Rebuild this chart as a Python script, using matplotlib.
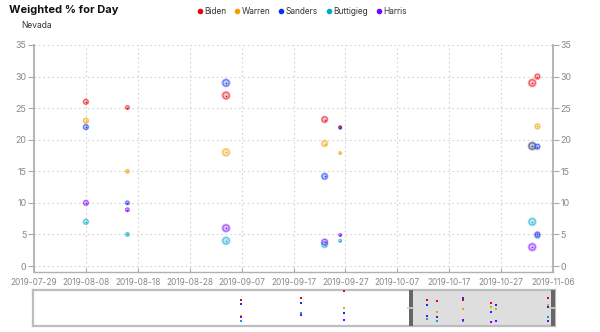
import matplotlib
matplotlib.use("Agg")
import matplotlib.pyplot as plt
import matplotlib.dates as mdates
from matplotlib.lines import Line2D
import numpy as np
import pandas as pd

plt.rcParams['font.family'] = ['Inter', 'DejaVu Sans']

# ---------------- data ----------------
candidates = ["Biden", "Warren", "Sanders", "Buttigieg", "Harris"]
cand_colors = ["#e8000b", "#f0a000", "#0a32f0", "#00a8c8", "#7a00ff"]

poll_dates = ["2019-08-08", "2019-08-16", "2019-09-04", "2019-09-23",
              "2019-09-26", "2019-11-02", "2019-11-03"]
biden = [26.0, 25.1, 27.0, 23.2, 22.0, 29.0, 30.0]
warren = [23.0, 15.0, 18.0, 19.4, 17.9, 19.0, 22.1]
sanders = [22.0, 10.0, 29.0, 14.2, 21.9, 19.0, 18.9]
buttigieg = [7.0, 5.0, 4.0, 3.4, 4.0, 7.0, 4.8]
harris = [10.0, 8.9, 6.0, 3.8, 4.9, 3.0, 5.0]
poll_weight = [3.4, 2.6, 4.6, 3.9, 2.0, 4.6, 3.4]

# scrollbar preview series
scroll_dates = ["2019-09-07", "2019-09-18 14:00", "2019-09-27", "2019-10-13",
                "2019-10-15", "2019-10-20", "2019-10-25 10:00",
                "2019-10-26 10:00", "2019-11-05 10:00"]
nan = np.nan
s_biden = [25.0, 27.5, 34.5, 25.0, 24.3, 24.8, 22.1, nan, 27.5]
s_warren = [10.2, nan, 17.8, nan, 13.9, 16.8, 18.5, 16.2, 20.4]
s_sanders = [21.4, 22.6, 12.2, 20.7, 8.7, 27.2, 13.3, 20.4, 18.5]
s_buttigieg = [4.9, 12.6, nan, 7.1, 4.9, 4.9, nan, nan, 8.7]
s_harris = [9.2, 10.7, 6.0, 9.7, nan, 6.1, 3.9, 4.9, 4.9]

x_start, x_end = "2019-07-29", "2019-11-06"
sel_start = "2019-10-09 12:00"
y_ticks = [0, 5, 10, 15, 20, 25, 30, 35]

# ---------------- figure ----------------
W, H = 600, 332
fig = plt.figure(figsize=(W / 100, H / 100), dpi=100)

def fx(px):
    return px / W

def fy(py):
    return 1 - py / H

ax = fig.add_axes([fx(34), fy(272), fx(553) - fx(34), fy(45) - fy(272)])
d0 = mdates.datestr2num(x_start)
d1 = mdates.datestr2num(x_end)
ax.set_xlim(d0, d1)
ax.set_ylim(-0.95, 35)

grid_kw = dict(color="#d4d4d4", lw=0.8, ls=(0, (1.5, 2.5)), zorder=0)
for t in y_ticks:
    ax.axhline(t, **grid_kw)
xt = [d0 + 10 * i for i in range(11)]
for t in xt:
    ax.axvline(t, **grid_kw)

series = [biden, warren, sanders, buttigieg, harris]
xd = mdates.datestr2num(poll_dates)
px2pt = 72 / 100
for vals, col in zip(series, cand_colors):
    r = np.array(poll_weight)
    s_out = (2 * r * px2pt) ** 2
    s_mid = (2 * r * 0.68 * px2pt) ** 2
    ax.scatter(xd, vals, s=s_out, color=col, alpha=0.28, lw=0, zorder=3)
    ax.scatter(xd, vals, s=s_mid, facecolor=(1, 1, 1, 0.15),
               edgecolor=matplotlib.colors.to_rgba(col, 0.55), lw=0.8, zorder=4)
    ax.scatter(xd, vals, s=(1.6 * px2pt) ** 2, color=col, alpha=0.95, lw=0, zorder=5)

ax.spines["top"].set_visible(False)
for sp in ["left", "right", "bottom"]:
    ax.spines[sp].set_color("#b0b0b0")
ax.spines["left"].set_linewidth(1.3)
ax.spines["right"].set_linewidth(1.3)
ax.spines["bottom"].set_linewidth(1.0)

ax.set_yticks(y_ticks)
ax.set_yticklabels([str(t) for t in y_ticks])
ax.tick_params(axis="y", which="both", direction="out", length=4, width=0.8,
               color="#aaaaaa", labelcolor="#888888", labelsize=6.4, pad=1.5,
               left=True, right=True, labelleft=True, labelright=True)
ax.set_xticks(xt)
ax.set_xticklabels([mdates.num2date(t).strftime("%Y-%m-%d") for t in xt])
ax.tick_params(axis="x", direction="in", length=3, width=0.8, color="#aaaaaa",
               labelcolor="#888888", labelsize=6.0, pad=4.5)

# title, subtitle
fig.text(fx(9), fy(10), "Weighted % for Day", fontsize=8.0, fontweight="bold",
         color="#111111", va="center", ha="left")
fig.text(fx(21), fy(25), "Nevada", fontsize=6.1, color="#333333",
         va="center", ha="left")

# legend
handles = [Line2D([], [], marker="o", ls="", color=c, markersize=3.0)
           for c in cand_colors]
fig.legend(handles, candidates, loc="center", bbox_to_anchor=(fx(302), fy(11)),
           ncol=5, frameon=False, fontsize=6.0, handletextpad=0.2,
           columnspacing=1.05, handlelength=0.6, labelcolor="#333333",
           borderaxespad=0, borderpad=0)

# scrollbar
sb = fig.add_axes([fx(33), fy(326), fx(555) - fx(33), fy(290) - fy(326)])
sb.set_xlim(d0 - 1 / 5.17, d0 + (555 - 34) / 5.17)
sb.set_ylim(0, 35)
sb.set_xticks([])
sb.set_yticks([])
for sp in sb.spines.values():
    sp.set_color("#bdbdbd")
    sp.set_linewidth(1.6)
sel0 = mdates.datestr2num(sel_start)
sel1 = d0 + (555 - 34) / 5.17
sb.axvspan(sel0, sel1, color="#dedede", zorder=0, lw=0)
gw = 4 / 5.17
sb.axvspan(sel0, sel0 + gw, color="#666666", zorder=6, lw=0)
sb.axvspan(sel1 - gw, sel1, color="#666666", zorder=6, lw=0)
for gx in [sel0, sel1 - gw]:
    sb.plot([gx - 0.3, gx + gw + 0.3], [17.5, 17.5], color="#cfcfcf", lw=1.2,
            zorder=7, solid_capstyle="butt")
sxd = mdates.datestr2num(scroll_dates)
for vals, col in zip([s_biden, s_warren, s_sanders, s_buttigieg, s_harris],
                     cand_colors):
    sb.scatter(sxd, vals, s=4.5, marker="s", color=col, lw=0, zorder=4,
               clip_on=True)

fig.savefig("out.png", dpi=100)
